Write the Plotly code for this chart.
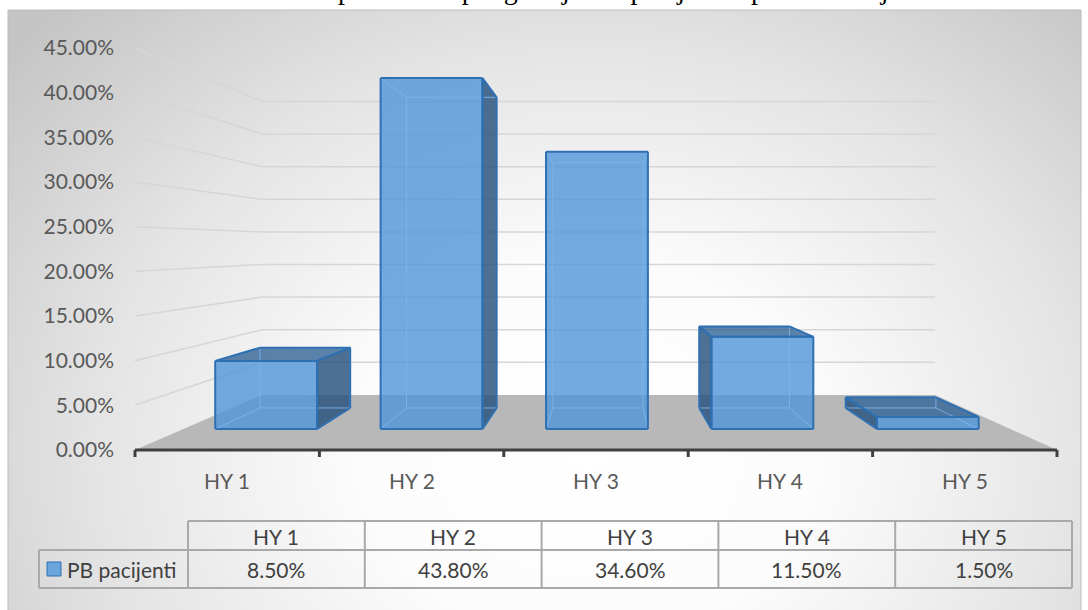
import base64
import plotly.graph_objects as go

# ---------------- data ----------------
categories = ["HY 1", "HY 2", "HY 3", "HY 4", "HY 5"]
values = [0.085, 0.438, 0.346, 0.115, 0.015]
value_labels = ["8.50%", "43.80%", "34.60%", "11.50%", "1.50%"]
series_name = "PB pacijenti"
y_ticks = [0.0, 0.05, 0.10, 0.15, 0.20, 0.25, 0.30, 0.35, 0.40, 0.45]
title_text = "Grafikon 4. Raspodela ukupnog broja PB pacijenata prema stadijumu bolesti"

# ---------------- layout geometry (pixels) ----------------
W, H = 1088, 610
X0_PX, X5_PX = 135, 1057          # front edge of floor, category axis ends
Y0_PX, YMAX_PX = 450, 48          # 0% and 45% on front plane
PLOT_L, PLOT_R, PLOT_T, PLOT_B = 125, 1066, 40, 464
n = len(categories)
ppx = (X5_PX - X0_PX) / n                      # px per category unit
ppy = (Y0_PX - YMAX_PX) / y_ticks[-1]          # px per value unit
x_range = [-(X0_PX - PLOT_L) / ppx, n + (PLOT_R - X5_PX) / ppx]
y_range = [-(PLOT_B - Y0_PX) / ppy, y_ticks[-1] + (YMAX_PX - PLOT_T) / ppy]

# perspective: vanishing point and depth scales
VP_X_PX, VP_Y_PX = 605.4, 246.0
PC = (VP_X_PX - X0_PX) / ppx
PV = (Y0_PX - VP_Y_PX) / ppy
S_WALL = 0.73
S_BAR_F, S_BAR_B = 0.897, 0.794
BAR_HALF = 0.308

FONT = "Lato"
FS = 21


def proj(c, v, s):
    return PC + s * (c - PC), PV + s * (v - PV)


def pxx(px):
    return (px - PLOT_L) / (PLOT_R - PLOT_L)


def pxy(py):
    return (PLOT_B - py) / (PLOT_B - PLOT_T)


fig = go.Figure()


def poly(points, fill, line_color=None, line_width=0):
    xs = [p[0] for p in points] + [points[0][0]]
    ys = [p[1] for p in points] + [points[0][1]]
    fig.add_trace(go.Scatter(
        x=xs, y=ys, mode="lines", fill="toself", fillcolor=fill,
        line=dict(color=line_color or "rgba(0,0,0,0)", width=line_width),
        hoverinfo="skip", showlegend=False))


def lines(segs, color, width):
    xs, ys = [], []
    for a, b in segs:
        xs += [a[0], b[0], None]
        ys += [a[1], b[1], None]
    fig.add_trace(go.Scatter(x=xs, y=ys, mode="lines",
                             line=dict(color=color, width=width),
                             hoverinfo="skip", showlegend=False))


# floor
poly([proj(0, 0, 1), proj(n, 0, 1), proj(n, 0, S_WALL), proj(0, 0, S_WALL)], "#b8b8b8")

# gridlines (side wall + back wall)
gx, gy = [], []
for v in y_ticks[1:]:
    for p in (proj(0, v, 1), proj(0, v, S_WALL), proj(n, v, S_WALL)):
        gx.append(p[0]); gy.append(p[1])
    gx.append(None); gy.append(None)
fig.add_trace(go.Scatter(x=gx, y=gy, mode="lines", line=dict(color="#d6d6d6", width=1.5),
                         hoverinfo="skip", showlegend=False))

# axis line with ticks
lines([((0, 0), (n, 0))], "#404040", 3)
tick_len = 7 / ppy
lines([((i, 0), (i, -tick_len)) for i in range(n + 1)], "#404040", 3)

FRONT_FILL = "rgba(80,150,218,0.80)"
SIDE_FILL = "rgba(38,80,125,0.82)"
TOP_FILL = "rgba(50,100,150,0.80)"
EDGE = "#2f70b3"
INNER = "rgba(125,180,235,0.9)"

for i, v in enumerate(values):
    c = i + 0.5
    xl, xr = c - BAR_HALF, c + BAR_HALF
    C = {}
    for sk, s in (("f", S_BAR_F), ("b", S_BAR_B)):
        for hk, xx in (("l", xl), ("r", xr)):
            for vk, yy in (("0", 0.0), ("1", v)):
                C[sk + hk + vk] = proj(xx, yy, s)
    faces_outline = []
    if xr < PC:
        side = [C["fr0"], C["br0"], C["br1"], C["fr1"]]
    elif xl > PC:
        side = [C["fl0"], C["bl0"], C["bl1"], C["fl1"]]
    else:
        side = None
    if side:
        poly(side, SIDE_FILL)
        faces_outline.append(side)
    if v < PV:
        top = [C["fl1"], C["fr1"], C["br1"], C["bl1"]]
        poly(top, TOP_FILL)
        faces_outline.append(top)
    front = [C["fl0"], C["fr0"], C["fr1"], C["fl1"]]
    poly(front, FRONT_FILL)
    faces_outline.append(front)
    inner = [
        (C["bl0"], C["br0"]), (C["bl1"], C["br1"]), (C["bl0"], C["bl1"]), (C["br0"], C["br1"]),
        (C["fl0"], C["bl0"]), (C["fr0"], C["br0"]), (C["fl1"], C["bl1"]), (C["fr1"], C["br1"]),
    ]
    lines(inner, INNER, 1)
    segs = []
    for f in faces_outline:
        for k in range(len(f)):
            segs.append((f[k], f[(k + 1) % len(f)]))
    lines(segs, EDGE, 2)

# category labels under axis
annotations = []
for i, cat in enumerate(categories):
    annotations.append(dict(x=i + 0.5, xref="x", y=pxy(480), yref="paper", text=cat,
                            showarrow=False, xanchor="center", yanchor="middle",
                            font=dict(family=FONT, size=FS, color="#595959")))

# data table
TBL_L, TBL_R, LEG_L = 188, 1072, 39
ROW_T, ROW_M, ROW_B = 521, 550, 588
col_w = (TBL_R - TBL_L) / n
LINE_C = "#a9a9a9"
shapes = []


def hline(y, x1, x2):
    shapes.append(dict(type="line", xref="paper", yref="paper", x0=pxx(x1), x1=pxx(x2),
                       y0=pxy(y), y1=pxy(y), line=dict(color=LINE_C, width=2)))


def vline(x, y1, y2):
    shapes.append(dict(type="line", xref="paper", yref="paper", x0=pxx(x), x1=pxx(x),
                       y0=pxy(y1), y1=pxy(y2), line=dict(color=LINE_C, width=2)))


# chart frame
shapes.append(dict(type="rect", xref="paper", yref="paper", layer="below",
                   x0=pxx(8), x1=pxx(1081), y0=pxy(640), y1=pxy(10),
                   line=dict(color="#bcbcbc", width=1), fillcolor="rgba(0,0,0,0)"))

hline(ROW_T, TBL_L, TBL_R)
hline(ROW_M, LEG_L, TBL_R)
hline(ROW_B, LEG_L, TBL_R)
vline(LEG_L, ROW_M, ROW_B)
for k in range(n + 1):
    vline(TBL_L + k * col_w, ROW_T, ROW_B)

for k, (cat, lab) in enumerate(zip(categories, value_labels)):
    cx = pxx(TBL_L + (k + 0.5) * col_w)
    annotations.append(dict(x=cx, xref="paper", y=pxy((ROW_T + ROW_M) / 2 + 1), yref="paper",
                            text=cat, showarrow=False, xanchor="center", yanchor="middle",
                            font=dict(family=FONT, size=FS, color="#404040")))
    annotations.append(dict(x=cx, xref="paper", y=pxy((ROW_M + ROW_B) / 2), yref="paper",
                            text=lab, showarrow=False, xanchor="center", yanchor="middle",
                            font=dict(family=FONT, size=FS, color="#404040")))

# legend key + name
shapes.append(dict(type="rect", xref="paper", yref="paper", x0=pxx(47), x1=pxx(61),
                   y0=pxy(576), y1=pxy(562), fillcolor="#6aa6dc",
                   line=dict(color="#2f70b3", width=1)))
annotations.append(dict(x=pxx(65), xref="paper", y=pxy((ROW_M + ROW_B) / 2), yref="paper",
                        text=series_name, showarrow=False, xanchor="left", yanchor="middle",
                        font=dict(family=FONT, size=FS, color="#404040")))

# clipped title at the very top (only its lower edge shows, as in the source)
annotations.append(dict(x=pxx(590), xref="paper", y=pxy(7), yref="paper", text=title_text,
                        showarrow=False, xanchor="center", yanchor="bottom",
                        font=dict(family="Liberation Serif", size=28, color="#000000")))

# radial gradient background
FW, FH = 1073, 630
svg = (f"<svg xmlns='http://www.w3.org/2000/svg' width='{FW}' height='{FH}' viewBox='0 0 {FW} {FH}' "
       f"preserveAspectRatio='none'><defs><radialGradient id='g' gradientUnits='userSpaceOnUse' "
       f"cx='580' cy='440' r='760' gradientTransform='translate(580 440) scale(1 0.82) translate(-580 -440)'>"
       f"<stop offset='0' stop-color='#ffffff'/><stop offset='0.3' stop-color='#fcfcfc'/>"
       f"<stop offset='0.65' stop-color='#e4e4e4'/><stop offset='1' stop-color='#c4c4c4'/>"
       f"</radialGradient></defs><rect width='{FW}' height='{FH}' fill='url(#g)'/></svg>")
src = "data:image/svg+xml;base64," + base64.b64encode(svg.encode()).decode()

fig.update_layout(
    width=W, height=H,
    margin=dict(l=PLOT_L, r=W - PLOT_R, t=PLOT_T, b=H - PLOT_B, pad=0),
    paper_bgcolor="#ffffff", plot_bgcolor="rgba(0,0,0,0)",
    showlegend=False,
    xaxis=dict(range=x_range, showgrid=False, zeroline=False, showline=False,
               showticklabels=False, ticks="", fixedrange=True),
    yaxis=dict(range=y_range, showgrid=False, zeroline=False, showline=False,
               tickvals=y_ticks, tickformat=".2%", ticks="", ticklabelstandoff=10,
               tickfont=dict(family=FONT, size=FS, color="#595959"), fixedrange=True),
    shapes=shapes,
    annotations=annotations,
    images=[dict(source=src, xref="paper", yref="paper", x=pxx(8), y=pxy(10),
                 sizex=pxx(1081) - pxx(8), sizey=pxy(10) - pxy(640),
                 xanchor="left", yanchor="top", sizing="stretch", layer="below")],
)

fig.write_html("out.html", config={"displayModeBar": False},
               post_script="document.body.style.margin='0';document.body.style.overflow='hidden';")
